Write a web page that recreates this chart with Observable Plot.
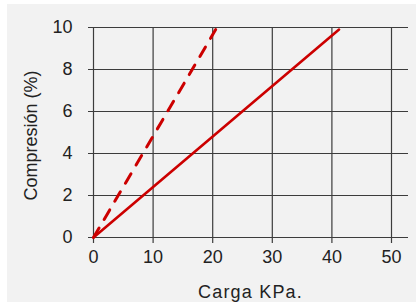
<!DOCTYPE html>
<html>
<head>
<meta charset="utf-8">
<script src="https://cdn.jsdelivr.net/npm/d3@7"></script>
<script src="https://cdn.jsdelivr.net/npm/@observablehq/plot@0.6"></script>
<style>
  html, body { margin: 0; padding: 0; background: #ffffff; }
  #wrap { position: absolute; left: 7px; top: 4px; width: 409px; height: 298px; background: #f2f2f2; overflow: hidden; }
  #wrap svg { display: block; }
</style>
</head>
<body>
<div id="wrap"></div>
<script>
// Data
const xTicks = [0, 10, 20, 30, 40, 50];
const yTicks = [0, 2, 4, 6, 8, 10];
const solidX = [0, 41.2];
const solidY = [0, 9.9];
const dashedX = [0, 20.5];
const dashedY = [0, 9.9];
const xLabel = "Carga KPa.";
const yLabel = "Compresión (%)";

const solid = solidX.map((x, i) => ({x, y: solidY[i]}));
const dashed = dashedX.map((x, i) => ({x, y: dashedY[i]}));

const red = "#cc0000";
const gridColor = "#3c3c3c";
const font = "'Liberation Sans', Arial, Helvetica, sans-serif";

const chart = Plot.plot({
  width: 409,
  height: 298,
  marginLeft: 86,
  marginRight: 25,
  marginTop: 23,
  marginBottom: 65,
  style: {background: "transparent", fontFamily: font, color: "#222"},
  x: {domain: [0, 50]},
  y: {domain: [0, 10]},
  marks: [
    Plot.ruleY(yTicks, {stroke: gridColor, strokeWidth: 1.2, insetLeft: -5, insetRight: -17}),
    Plot.ruleX(xTicks, {stroke: gridColor, strokeWidth: 1.2, insetBottom: -6}),
    Plot.axisY(yTicks, {tickSize: 0, tickPadding: 21, fontSize: 18, label: null, fill: "#222"}),
    Plot.axisX(xTicks, {tickSize: 0, tickPadding: 13, fontSize: 18, label: null, fill: "#222"}),
    Plot.line(dashed, {x: "x", y: "y", stroke: red, strokeWidth: 3, strokeDasharray: "11,10"}),
    Plot.line(solid, {x: "x", y: "y", stroke: red, strokeWidth: 2.6}),
    Plot.text([xLabel], {frameAnchor: "bottom", dx: 8, dy: 60, fontSize: 18, fill: "#222"}),
    Plot.text([yLabel], {frameAnchor: "left", textAnchor: "middle", rotate: -90, dx: -62, dy: 3, fontSize: 18, fill: "#222"})
  ]
});
d3.select(chart).selectAll("text").filter(function() { return this.textContent === xLabel; })
  .attr("letter-spacing", "1.2px");
document.getElementById("wrap").appendChild(chart);
</script>
</body>
</html>
